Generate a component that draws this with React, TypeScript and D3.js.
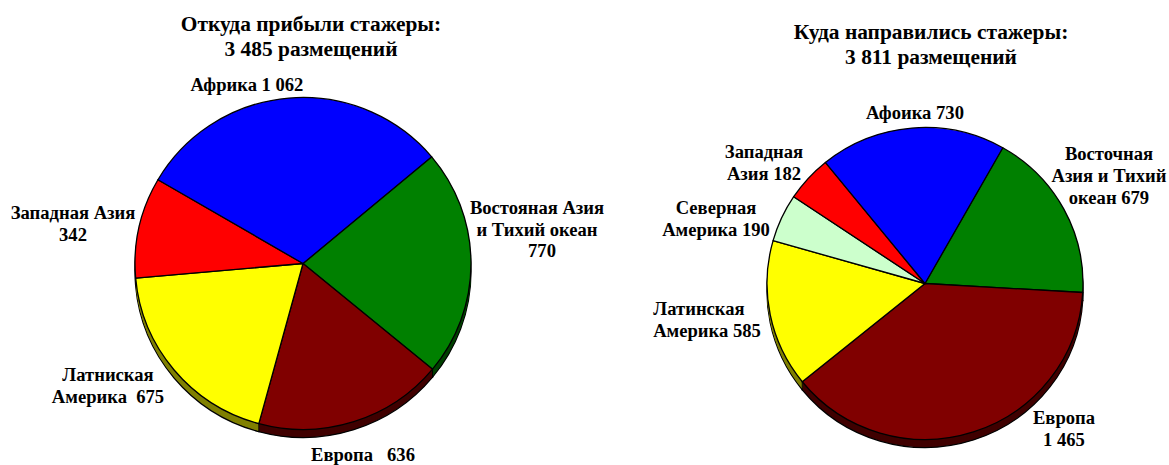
import React from "react";
import * as d3 from "d3";

const sliceColors = { africa: "#0000ff", eastAsia: "#008000", europe: "#800000", latin: "#ffff00", northAm: "#ccffcc", westAsia: "#ff0000" };
const rimColors = { africa: "#000080", eastAsia: "#004000", europe: "#400000", latin: "#808000", northAm: "#668066", westAsia: "#800000" };

const leftKeys = ["eastAsia", "europe", "latin", "westAsia", "africa"];
const leftValues = [770, 636, 675, 342, 1062];
const rightKeys = ["eastAsia", "europe", "latin", "northAm", "westAsia", "africa"];
const rightValues = [679, 1465, 585, 190, 182, 730];

const leftTitle = ["Откуда прибыли стажеры:", "3 485 размещений"];
const rightTitle = ["Куда направились стажеры:", "3 811 размещений"];

const leftLabels = [
  { lines: ["Африка 1 062"], x: 247, y: 91 },
  { lines: ["Востояная Азия", "и Тихий океан", "770"], x: 537, y: 214, dx: [0, 0, 5] },
  { lines: ["Западная Азия", "342"], x: 73, y: 219 },
  { lines: ["Латниская", "Америка  675"], x: 108, y: 381 },
  { lines: ["Европа   636"], x: 363, y: 461 },
];
const rightLabels = [
  { lines: ["Афоика 730"], x: 915, y: 119 },
  { lines: ["Восточная", "Азия и Тихий", "океан 679"], x: 1109, y: 160 },
  { lines: ["Западная", "Азия 182"], x: 764, y: 158 },
  { lines: ["Северная", "Америка 190"], x: 716, y: 214 },
  { lines: ["Латинская", "Америка 585"], x: 707, y: 315, dx: [-8, 0] },
  { lines: ["Европа", "1 465"], x: 1064, y: 424 },
];

const FONT = "'Liberation Serif', 'Times New Roman', serif";

function Pie({ keys, values, cx, cy, rx, ry, depth, startDeg }: any) {
  const startRad = (startDeg * Math.PI) / 180;
  const arcs = d3.pie<number>().sort(null).startAngle(startRad).endAngle(startRad + 2 * Math.PI)(values);
  const arcGen = d3.arc<any>().innerRadius(0).outerRadius(ry);
  const sx = rx / ry;
  const offsets = d3.range(depth, 0, -1);
  const rimX = (a: number) => cx + Math.sin(a) * rx;
  const rimY = (a: number) => cy - Math.cos(a) * ry;
  return (
    <g>
      {offsets.map((o) => (
        <g key={o} transform={`translate(${cx},${cy + o}) scale(${sx},1)`}>
          {arcs.map((a, i) => (
            <path
              key={i}
              d={arcGen(a) as string}
              fill={(rimColors as any)[keys[i]]}
              stroke="#000"
              strokeWidth={o === depth ? 1.3 : 0}
              vectorEffect="non-scaling-stroke"
            />
          ))}
        </g>
      ))}
      {arcs.map((a, i) =>
        Math.cos(a.startAngle) < 0 ? (
          <line key={i} x1={rimX(a.startAngle)} y1={rimY(a.startAngle)} x2={rimX(a.startAngle)} y2={rimY(a.startAngle) + depth} stroke="#000" strokeWidth={1} />
        ) : null
      )}
      <g transform={`translate(${cx},${cy}) scale(${sx},1)`}>
        {arcs.map((a, i) => (
          <path
            key={i}
            d={arcGen(a) as string}
            fill={(sliceColors as any)[keys[i]]}
            stroke="#000"
            strokeWidth={1.3}
            strokeLinejoin="round"
            vectorEffect="non-scaling-stroke"
          />
        ))}
      </g>
    </g>
  );
}

function Label({ lines, x, y, size, lh, dx }: any) {
  return (
    <text x={x} y={y} textAnchor="middle" fontFamily={FONT} fontWeight="bold" fontSize={size} fill="#000" style={{ whiteSpace: "pre" }}>
      {lines.map((l: string, i: number) => (
        <tspan key={i} x={x + (dx ? dx[i] : 0)} y={y + i * lh}>{l}</tspan>
      ))}
    </text>
  );
}

export default function App() {
  return (
    <svg width={1169} height={465} viewBox="0 0 1169 465" style={{ position: "absolute", left: 0, top: 0, background: "#fff" }}>
      <Label lines={leftTitle} x={311} y={31} size={21.4} lh={25} />
      <Label lines={rightTitle} x={931} y={39} size={21.4} lh={25} />
      <Pie keys={leftKeys} values={leftValues} cx={303} cy={263.5} rx={168} ry={166} depth={8} startDeg={50} />
      <Pie keys={rightKeys} values={rightValues} cx={925} cy={283.5} rx={158} ry={156} depth={8} startDeg={29.5} />
      {leftLabels.map((l, i) => (
        <Label key={i} lines={l.lines} x={l.x} y={l.y} dx={l.dx} size={18.6} lh={21.5} />
      ))}
      {rightLabels.map((l, i) => (
        <Label key={i} lines={l.lines} x={l.x} y={l.y} dx={l.dx} size={18.6} lh={22} />
      ))}
    </svg>
  );
}
